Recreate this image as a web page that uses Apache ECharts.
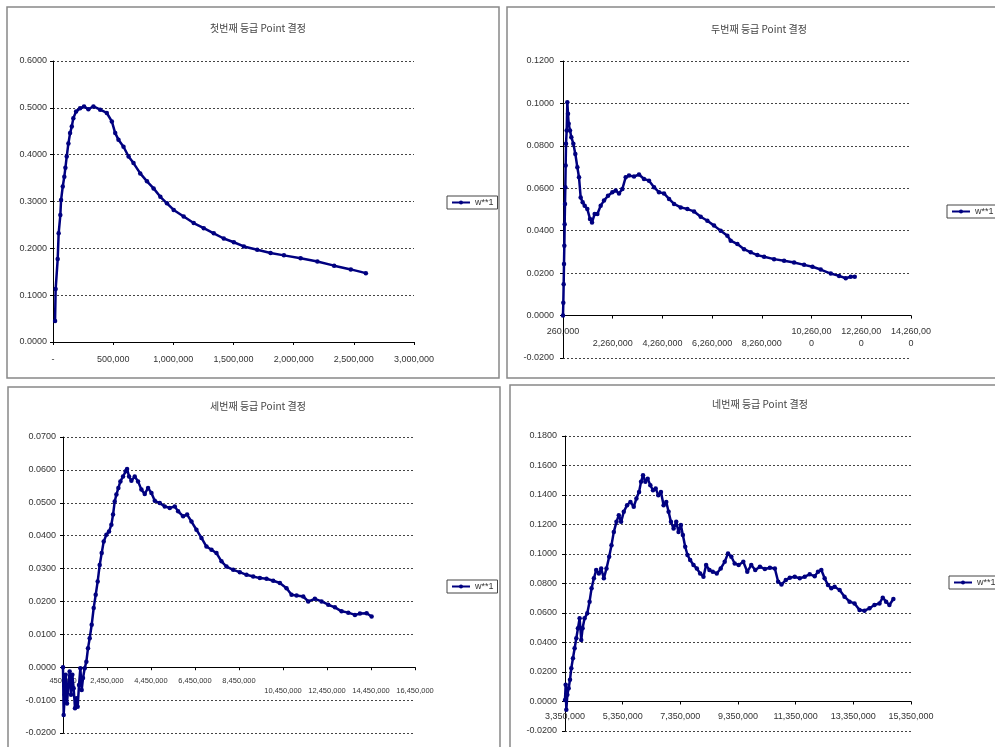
<!DOCTYPE html>
<html lang="ko">
<head>
    <meta charset="UTF-8">
    <title>등급 Point 결정</title>
    <script src="https://cdn.jsdelivr.net/npm/echarts@6.0.0/dist/echarts.min.js"></script>
    <style>
        body { margin: 0; background: #fff; }
        #chart { width: 995px; height: 747px; }
    </style>
</head>
<body>
    <div id="chart"></div>
    <script>
        // 차트 제목
        const titles = ['첫번째 등급 Point 결정', '두번째 등급 Point 결정', '세번째 등급 Point 결정', '네번째 등급 Point 결정'];
        const seriesName = 'w**1';

        // x축 눈금 라벨 (엑셀 원본처럼 엇갈려 표시)
        const xLabels1 = ['-', '500,000', '1,000,000', '1,500,000', '2,000,000', '2,500,000', '3,000,000'];
        const xLabels2 = ['260,000', '\n2,260,000', '\n4,260,000', '\n6,260,000', '\n8,260,000', '10,260,00\n0', '12,260,00\n0', '14,260,00\n0'];
        const xLabels3 = ['450,000', '2,450,000', '4,450,000', '6,450,000', '8,450,000', '\n10,450,000', '\n12,450,000', '\n14,450,000', '\n16,450,000'];
        const xLabels4 = ['3,350,000', '5,350,000', '7,350,000', '9,350,000', '11,350,000', '13,350,000', '15,350,000'];

        // 첫번째 등급
        const points1 = [
            [17000, 0.045], [22000, 0.113], [39000, 0.177], [47000, 0.232], [61000, 0.271], [67000, 0.303],
            [81000, 0.332], [94000, 0.353], [103000, 0.372], [114000, 0.396], [128000, 0.424], [142000, 0.446],
            [156000, 0.460], [169000, 0.478], [192000, 0.492], [225000, 0.499], [258000, 0.503], [294000, 0.497],
            [336000, 0.503], [392000, 0.496], [447000, 0.489], [489000, 0.471], [517000, 0.446], [544000, 0.432],
            [586000, 0.417], [628000, 0.396], [669000, 0.382], [725000, 0.360], [781000, 0.343], [836000, 0.328],
            [892000, 0.310], [947000, 0.296], [1003000, 0.282], [1086000, 0.268], [1169000, 0.254], [1253000, 0.243],
            [1336000, 0.232], [1419000, 0.221], [1503000, 0.213], [1586000, 0.204], [1697000, 0.197], [1808000, 0.190],
            [1919000, 0.185], [2058000, 0.179], [2197000, 0.172], [2336000, 0.163], [2475000, 0.155], [2600000, 0.147]
        ];

        // 두번째 등급
        const points2 = [
            [260000, 0.0], [273000, 0.0061], [287000, 0.0148], [300000, 0.0243], [314000, 0.0329], [327000, 0.0431],
            [340000, 0.0526], [354000, 0.0605], [367000, 0.0707], [381000, 0.0810], [408000, 0.0872], [434000, 0.1006],
            [461000, 0.0951], [488000, 0.0904], [542000, 0.0872], [595000, 0.0841], [676000, 0.0810], [756000, 0.0762],
            [837000, 0.0699], [904000, 0.0652], [971000, 0.0557], [1051000, 0.0534], [1132000, 0.0518], [1239000, 0.0502],
            [1347000, 0.0455], [1427000, 0.0439], [1534000, 0.0479], [1642000, 0.0479], [1776000, 0.0518], [1910000, 0.0542],
            [2071000, 0.0565], [2245000, 0.0581], [2379000, 0.0589], [2513000, 0.0576], [2648000, 0.0597], [2782000, 0.0652],
            [2916000, 0.0660], [3117000, 0.0655], [3318000, 0.0665], [3519000, 0.0644], [3721000, 0.0636], [3922000, 0.0605],
            [4123000, 0.0581], [4324000, 0.0576], [4526000, 0.0550], [4727000, 0.0526], [4995000, 0.0510], [5263000, 0.0502],
            [5532000, 0.0491], [5800000, 0.0466], [6068000, 0.0447], [6337000, 0.0424], [6605000, 0.0400], [6873000, 0.0376],
            [7007000, 0.0353], [7276000, 0.0337], [7544000, 0.0313], [7812000, 0.0298], [8080000, 0.0285], [8349000, 0.0277],
            [8751000, 0.0266], [9154000, 0.0258], [9556000, 0.0250], [9959000, 0.0239], [10294000, 0.0230], [10629000, 0.0217],
            [11032000, 0.0198], [11367000, 0.0187], [11635000, 0.0176], [11836000, 0.0183], [11997000, 0.0183]
        ];

        // 세번째 등급
        const points3 = [
            [450000, 0.0], [480000, -0.0145], [526000, -0.0084], [571000, -0.0023], [632000, -0.0110], [693000, -0.0054],
            [753000, -0.0013], [814000, -0.0084], [875000, -0.0023], [935000, -0.0064], [996000, -0.0125], [1057000, -0.0094],
            [1117000, -0.0120], [1178000, -0.0054], [1239000, -0.0003], [1299000, -0.0069], [1360000, -0.0033], [1436000, -0.0003],
            [1512000, 0.0017], [1587000, 0.0058], [1663000, 0.0088], [1754000, 0.0129], [1845000, 0.0180], [1936000, 0.0220],
            [2027000, 0.0261], [2118000, 0.0311], [2209000, 0.0347], [2300000, 0.0382], [2422000, 0.0403], [2543000, 0.0413],
            [2649000, 0.0433], [2725000, 0.0464], [2801000, 0.0504], [2877000, 0.0525], [2968000, 0.0545], [3059000, 0.0565],
            [3180000, 0.0580], [3301000, 0.0596], [3362000, 0.0603], [3453000, 0.0580], [3559000, 0.0567], [3711000, 0.0580],
            [3862000, 0.0565], [4014000, 0.0540], [4166000, 0.0527], [4317000, 0.0545], [4469000, 0.0530], [4621000, 0.0506],
            [4848000, 0.0499], [5076000, 0.0489], [5303000, 0.0484], [5531000, 0.0489], [5682000, 0.0474], [5910000, 0.0459],
            [6092000, 0.0464], [6289000, 0.0443], [6516000, 0.0418], [6744000, 0.0393], [6971000, 0.0367], [7199000, 0.0357],
            [7426000, 0.0347], [7654000, 0.0322], [7881000, 0.0306], [8185000, 0.0296], [8488000, 0.0289], [8791000, 0.0281],
            [9095000, 0.0276], [9398000, 0.0271], [9701000, 0.0269], [10005000, 0.0263], [10308000, 0.0256], [10611000, 0.0240],
            [10839000, 0.0220], [11066000, 0.0218], [11370000, 0.0215], [11597000, 0.0200], [11900000, 0.0208], [12204000, 0.0200],
            [12507000, 0.0190], [12810000, 0.0182], [13113000, 0.0170], [13417000, 0.0166], [13720000, 0.0159], [13948000, 0.0163],
            [14251000, 0.0164], [14478000, 0.0154]
        ];

        // 네번째 등급
        const points4 = [
            [3350000, 0.0011], [3373000, 0.0113], [3396000, -0.0056], [3431000, 0.0045], [3477000, 0.0090], [3523000, 0.0147],
            [3569000, 0.0226], [3626000, 0.0293], [3684000, 0.0361], [3742000, 0.0429], [3799000, 0.0496], [3857000, 0.0564],
            [3914000, 0.0417], [3960000, 0.0496], [4029000, 0.0564], [4122000, 0.0598], [4202000, 0.0677], [4271000, 0.0767],
            [4352000, 0.0835], [4432000, 0.0891], [4525000, 0.0868], [4605000, 0.0902], [4697000, 0.0835], [4789000, 0.0902],
            [4882000, 0.0981], [4962000, 0.1060], [5043000, 0.1150], [5135000, 0.1218], [5216000, 0.1263], [5296000, 0.1218],
            [5388000, 0.1286], [5503000, 0.1331], [5619000, 0.1353], [5734000, 0.1320], [5826000, 0.1376], [5918000, 0.1421],
            [5987000, 0.1489], [6056000, 0.1534], [6137000, 0.1489], [6217000, 0.1511], [6310000, 0.1466], [6402000, 0.1432],
            [6494000, 0.1444], [6586000, 0.1399], [6678000, 0.1421], [6770000, 0.1331], [6862000, 0.1353], [6943000, 0.1286],
            [7024000, 0.1218], [7116000, 0.1173], [7208000, 0.1218], [7288000, 0.1150], [7369000, 0.1196], [7438000, 0.1128],
            [7519000, 0.1049], [7599000, 0.0993], [7691000, 0.0959], [7807000, 0.0925], [7922000, 0.0902], [8037000, 0.0868],
            [8152000, 0.0846], [8244000, 0.0925], [8359000, 0.0891], [8474000, 0.0880], [8613000, 0.0868], [8751000, 0.0902],
            [8889000, 0.0947], [9004000, 0.1004], [9119000, 0.0981], [9235000, 0.0936], [9373000, 0.0925], [9534000, 0.0947],
            [9672000, 0.0880], [9810000, 0.0925], [9949000, 0.0891], [10110000, 0.0914], [10283000, 0.0898], [10455000, 0.0907],
            [10628000, 0.0902], [10743000, 0.0812], [10858000, 0.0794], [11008000, 0.0823], [11146000, 0.0839], [11319000, 0.0846],
            [11492000, 0.0835], [11665000, 0.0846], [11837000, 0.0862], [12010000, 0.0850], [12125000, 0.0880], [12240000, 0.0891],
            [12355000, 0.0835], [12471000, 0.0790], [12586000, 0.0767], [12701000, 0.0778], [12874000, 0.0756], [13046000, 0.0711],
            [13219000, 0.0677], [13392000, 0.0665], [13565000, 0.0620], [13737000, 0.0616], [13910000, 0.0632], [14083000, 0.0654],
            [14256000, 0.0665], [14371000, 0.0704], [14486000, 0.0677], [14601000, 0.0654], [14739000, 0.0695]
        ];

        const chart = echarts.init(document.getElementById('chart'));

        const font = '"Liberation Sans", Arial, sans-serif';
        const lineColor = '#000080';

        // 패널별 배치
        const panels = [
            { grid: { left: 53, top: 61, width: 361, height: 281 }, title: [253, 18], legend: [447, 196],
              x: [0, 3000000, 500000, xLabels1], xFont: 9, xMargin: 12, y: [0, 0.6, 0.1], yMargin: 9, data: points1 },
            { grid: { left: 563, top: 61, width: 348, height: 297 }, title: [754, 19], legend: [947, 205],
              x: [260000, 14260000, 2000000, xLabels2], xFont: 9, xMargin: 10, y: [-0.02, 0.12, 0.02], yMargin: 12, data: points2 },
            { grid: { left: 63, top: 437, width: 352, height: 296 }, title: [253, 396], legend: [447, 580],
              x: [450000, 16450000, 2000000, xLabels3], xFont: 7.5, xMargin: 8, y: [-0.02, 0.07, 0.01], yMargin: 10, data: points3 },
            { grid: { left: 565, top: 436, width: 346, height: 295 }, title: [755, 394], legend: [949, 576],
              x: [3350000, 15350000, 2000000, xLabels4], xFont: 9, xMargin: 9, y: [-0.02, 0.18, 0.02], yMargin: 11, data: points4 }
        ];

        // x축을 y=0 위치로 올리기 (선, 눈금, 라벨 함께)
        function zeroOffset(p) {
            const [ymin, ymax] = p.y;
            if (ymin >= 0) return 0;
            return -p.grid.height * (0 - ymin) / (ymax - ymin);
        }

        const option = {
            animation: false,
            backgroundColor: '#fff',
            title: panels.map((p, i) => ({
                text: titles[i],
                left: p.title[0],
                top: p.title[1],
                textAlign: 'center',
                textStyle: { fontFamily: '"Noto Sans CJK KR", sans-serif', fontSize: 10, fontWeight: 'normal', color: '#444' }
            })),
            legend: panels.map(p => ({
                data: [seriesName],
                left: p.legend[0],
                top: p.legend[1],
                backgroundColor: '#fff',
                borderColor: '#444',
                borderWidth: 1,
                padding: [2, 4],
                itemWidth: 18,
                itemHeight: 5,
                textStyle: { fontFamily: font, fontSize: 9, color: '#333' }
            })),
            grid: panels.map(p => p.grid),
            xAxis: panels.map((p, i) => ({
                type: 'value',
                gridIndex: i,
                min: p.x[0],
                max: p.x[1],
                interval: p.x[2],
                offset: zeroOffset(p),
                splitLine: { show: false },
                axisLine: { onZero: false, lineStyle: { color: '#000', width: 1 } },
                axisTick: { length: 3, lineStyle: { color: '#000' } },
                axisLabel: {
                    fontFamily: font,
                    fontSize: p.xFont,
                    color: '#333',
                    margin: p.xMargin,
                    lineHeight: p.xFont + 3,
                    showMinLabel: true,
                    showMaxLabel: true,
                    hideOverlap: false,
                    formatter: (v, idx) => p.x[3][idx] || ''
                }
            })),
            yAxis: panels.map((p, i) => ({
                type: 'value',
                gridIndex: i,
                min: p.y[0],
                max: p.y[1],
                interval: p.y[2],
                axisLine: { show: true, lineStyle: { color: '#000', width: 1 } },
                axisTick: { show: true, length: 3, lineStyle: { color: '#000' } },
                splitLine: { lineStyle: { color: '#444', type: [2, 2], width: 1 } },
                axisLabel: {
                    fontFamily: font,
                    fontSize: 9,
                    color: '#333',
                    margin: p.yMargin - 3,
                    formatter: v => v.toFixed(4)
                }
            })),
            series: panels.map((p, i) => ({
                name: seriesName,
                type: 'line',
                xAxisIndex: i,
                yAxisIndex: i,
                data: p.data,
                symbol: 'circle',
                symbolSize: 4.5,
                color: lineColor,
                lineStyle: { color: lineColor, width: 2.5 },
                itemStyle: { color: lineColor }
            })),
            graphic: [
                // 패널 테두리
                { type: 'rect', shape: { x: 7, y: 7, width: 492, height: 371 }, style: { fill: null, stroke: '#888', lineWidth: 1.5 }, z: -1 },
                { type: 'rect', shape: { x: 507, y: 7, width: 500, height: 371 }, style: { fill: null, stroke: '#888', lineWidth: 1.5 }, z: -1 },
                { type: 'rect', shape: { x: 8, y: 387, width: 492, height: 370 }, style: { fill: null, stroke: '#888', lineWidth: 1.5 }, z: -1 },
                { type: 'rect', shape: { x: 510, y: 385, width: 500, height: 370 }, style: { fill: null, stroke: '#888', lineWidth: 1.5 }, z: -1 }
            ]
        };

        chart.setOption(option);
    </script>
</body>
</html>
